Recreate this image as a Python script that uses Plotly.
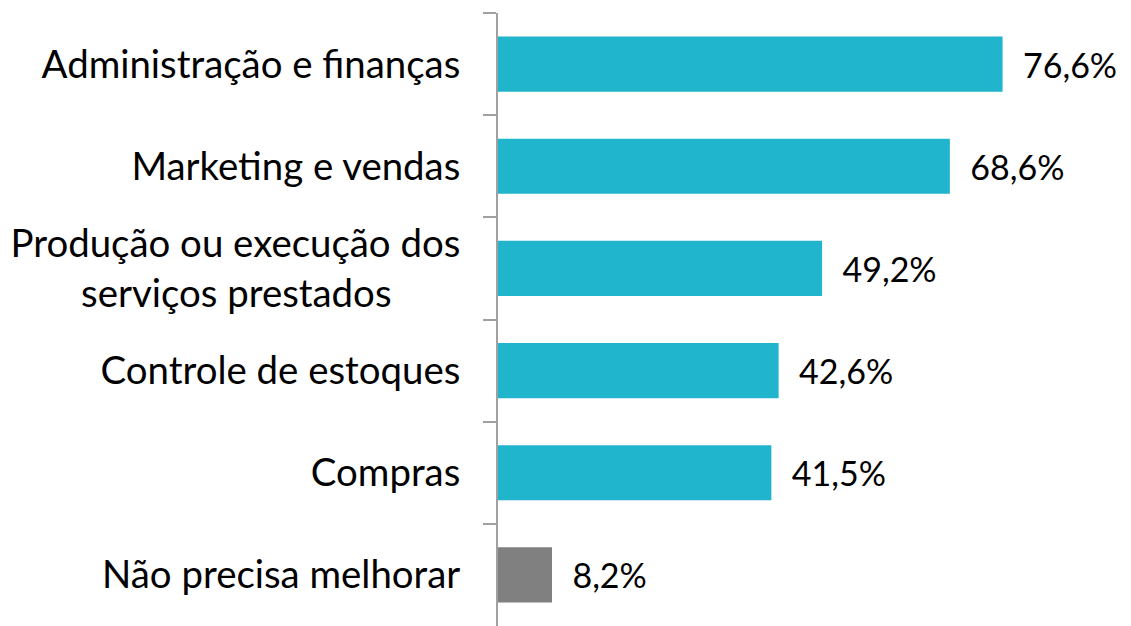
import plotly.graph_objects as go

NB = "\u00a0"
categories = ["Administração e finanças", "Marketing e vendas",
              "Produção ou execução dos<br>serviços prestados" + NB * 7,
              "Controle de estoques", "Compras", "Não precisa melhorar"]
values = [76.6, 68.6, 49.2, 42.6, 41.5, 8.2]
colors = ["#21B4CD"] * 5 + ["#808080"]

fig = go.Figure(go.Bar(
    y=categories, x=values, orientation="h",
    marker=dict(color=colors, line=dict(width=0)),
    width=0.54,
    text=[NB * 2 + f"{v:.1f}%".replace(".", ",") for v in values],
    textposition="outside",
    constraintext="none",
    textfont=dict(family="Lato", size=34, color="#000000"),
    cliponaxis=False,
))

fig.update_layout(
    width=1123, height=618,
    margin=dict(l=490, r=0, t=5, b=0, autoexpand=False),
    paper_bgcolor="white", plot_bgcolor="white",
    showlegend=False,
    font=dict(family="Lato", size=38.4, color="#000000"),
    xaxis=dict(range=[0, 96.1], visible=False),
    yaxis=dict(autorange="reversed", showline=True, linecolor="#A0A0A0", linewidth=2,
               ticks="outside", ticklen=13, tickcolor="#A0A0A0", tickwidth=2,
               tickson="boundaries", showgrid=False, ticklabelstandoff=28,
               automargin=False,
               tickfont=dict(family="Lato", size=38.4, color="#000000")),
)

fig.write_html("out.html")
